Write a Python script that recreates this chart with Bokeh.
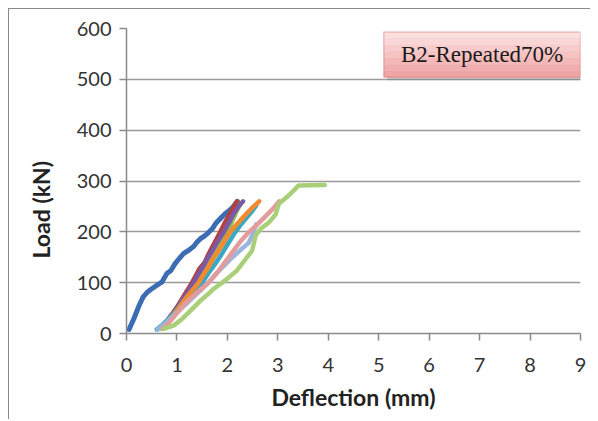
import math
from bokeh.plotting import figure
from bokeh.models import Label, BoxAnnotation, Range1d, FixedTicker, Title
from bokeh.embed import file_html
from bokeh.resources import INLINE

# ---- data ----
blue_x = [0.05, 0.15, 0.25, 0.33, 0.42, 0.53, 0.62, 0.70, 0.80, 0.88, 0.96, 1.05, 1.13, 1.22, 1.33, 1.40, 1.46, 1.55, 1.62, 1.70, 1.78, 1.86, 1.95, 2.05, 2.12, 2.20]
blue_y = [8, 30, 55, 72, 82, 90, 96, 101, 118, 124, 137, 148, 157, 163, 171, 180, 186, 192, 198, 206, 218, 226, 235, 243, 250, 260]

red_x = [0.70, 0.78, 0.90, 1.00, 1.10, 1.20, 1.30, 1.38, 1.45, 1.55, 1.62, 1.70, 1.78, 1.86, 1.95, 2.03, 2.12, 2.19]
red_y = [10, 22, 38, 52, 68, 84, 100, 115, 128, 140, 155, 170, 185, 200, 218, 232, 248, 260]

green_x = [0.70, 0.82, 0.95, 1.08, 1.20, 1.30, 1.38, 1.48, 1.58, 1.68, 1.78, 1.90, 2.00, 2.10, 2.18, 2.26]
green_y = [10, 22, 38, 55, 72, 88, 100, 118, 134, 150, 166, 184, 200, 222, 240, 255]

purple_x = [0.72, 0.82, 0.95, 1.05, 1.15, 1.25, 1.34, 1.42, 1.52, 1.62, 1.72, 1.82, 1.93, 2.03, 2.12, 2.22, 2.31]
purple_y = [12, 25, 42, 57, 72, 88, 100, 115, 132, 150, 166, 183, 200, 218, 235, 250, 260]

teal_x = [0.60, 0.72, 0.85, 0.98, 1.10, 1.22, 1.35, 1.50, 1.62, 1.75, 1.88, 2.02, 2.16, 2.28, 2.40, 2.50, 2.57]
teal_y = [8, 18, 30, 45, 60, 74, 86, 100, 118, 136, 155, 178, 200, 216, 230, 242, 252]

orange_x = [0.65, 0.78, 0.90, 1.02, 1.12, 1.22, 1.33, 1.43, 1.52, 1.62, 1.72, 1.82, 1.92, 2.00, 2.06, 2.16, 2.28, 2.40, 2.50, 2.63]
orange_y = [10, 20, 32, 48, 62, 75, 88, 100, 115, 130, 148, 162, 178, 192, 200, 212, 225, 238, 248, 260]

lblue_x = [0.62, 0.75, 0.90, 1.05, 1.20, 1.35, 1.50, 1.62, 1.78, 1.95, 2.10, 2.30, 2.42, 2.50, 2.57]
lblue_y = [8, 18, 32, 46, 60, 74, 88, 100, 118, 135, 150, 168, 178, 195, 215]

pink_x = [0.72, 0.85, 1.00, 1.15, 1.30, 1.45, 1.63, 1.80, 1.95, 2.10, 2.25, 2.43, 2.60, 2.75, 2.90, 3.03]
pink_y = [10, 22, 40, 58, 72, 85, 100, 120, 140, 160, 180, 200, 215, 230, 245, 260]

lgreen_x = [0.74, 0.94, 1.08, 1.21, 1.34, 1.47, 1.60, 1.73, 1.87, 2.00, 2.19, 2.39, 2.49, 2.56, 2.66, 2.83, 2.96, 3.02, 3.22, 3.41, 3.93]
lgreen_y = [9, 16, 27, 39, 52, 65, 76, 88, 98, 108, 124, 150, 163, 193, 206, 219, 235, 255, 272, 291, 292]

x_ticks = [0, 1, 2, 3, 4, 5, 6, 7, 8, 9]
y_ticks = [0, 100, 200, 300, 400, 500, 600]

series = [
    (blue_x, blue_y, "#3C6DB3"),
    (red_x, red_y, "#B2403D"),
    (green_x, green_y, "#93BC55"),
    (purple_x, purple_y, "#7A5AA6"),
    (teal_x, teal_y, "#3AA7C3"),
    (orange_x, orange_y, "#F08B30"),
    (lblue_x, lblue_y, "#9AB6DE"),
    (pink_x, pink_y, "#E39C9C"),
    (lgreen_x, lgreen_y, "#A9D079"),
]

p = figure(width=582, height=411, output_backend="svg", toolbar_location=None,
           x_range=Range1d(0, 9), y_range=Range1d(0, 600),
           min_border_left=117, min_border_right=11, min_border_top=19, min_border_bottom=87)
p.styles = {"margin-left": "8px", "margin-top": "8px",
            "border-left": "1px solid #8a8a8a", "border-top": "1px solid #8a8a8a"}
p.outline_line_color = None
p.background_fill_color = "white"
p.border_fill_color = "white"

p.xgrid.grid_line_color = None
p.ygrid.grid_line_color = "#9a9a9a"
p.ygrid.grid_line_width = 1.5
p.xaxis.ticker = FixedTicker(ticks=x_ticks)
p.yaxis.ticker = FixedTicker(ticks=y_ticks)
p.xaxis.minor_tick_line_color = None
p.yaxis.minor_tick_line_color = None
for ax in (p.xaxis, p.yaxis):
    ax.axis_line_color = "#8a8a8a"
    ax.axis_line_width = 1.5
    ax.major_tick_line_color = "#8a8a8a"
    ax.major_tick_line_width = 1.5
    ax.major_tick_out = 7
    ax.major_tick_in = 0
    ax.major_label_text_font = "Lato"
    ax.major_label_text_font_size = "20px"
    ax.major_label_text_color = "#333333"
p.xaxis.major_label_standoff = 17
p.yaxis.major_label_standoff = 8

p.xaxis.axis_label = "Deflection (mm)"
p.xaxis.axis_label_text_font = "Lato"
p.xaxis.axis_label_text_font_style = "bold"
p.xaxis.axis_label_text_font_size = "23px"
p.xaxis.axis_label_text_color = "#222222"
p.xaxis.axis_label_standoff = 8

ytitle = Title(text="Load (kN)", align="left", offset=75, standoff=33, vertical_align="top",
               text_font="Lato", text_font_style="bold", text_font_size="23px",
               text_color="#222222")
p.add_layout(ytitle, "left")

for i, (xs, ys, c) in enumerate(series):
    p.line(xs, ys, line_color=c, line_width=5 if i == 0 else 4.5,
           line_join="round", line_cap="round")

# annotation box
p.add_layout(BoxAnnotation(left=5.17, right=9.06, top=587, bottom=498,
                           fill_color="#777777", fill_alpha=0.35, line_color=None))
bands = ["#FCE0E0", "#FAD6D6", "#F8CCCC", "#F6C2C2", "#F4B8B8", "#F2AEAE", "#F0A5A5"]
top, bot = 593, 504
h = (top - bot) / len(bands)
for i, col in enumerate(bands):
    p.add_layout(BoxAnnotation(left=5.1, right=9.0, top=top - i * h, bottom=top - (i + 1) * h,
                               fill_color=col, fill_alpha=1.0, line_color=None))
p.add_layout(BoxAnnotation(left=5.1, right=9.0, top=top, bottom=bot,
                           fill_alpha=0, line_color="#CC4848", line_width=1.5))
p.add_layout(Label(x=7.05, y=549, text="B2-Repeated70%", text_font="Liberation Serif",
                   text_font_size="23px", text_color="#1a1a1a",
                   text_align="center", text_baseline="middle"))

open("out.html", "w").write(file_html(p, INLINE))
